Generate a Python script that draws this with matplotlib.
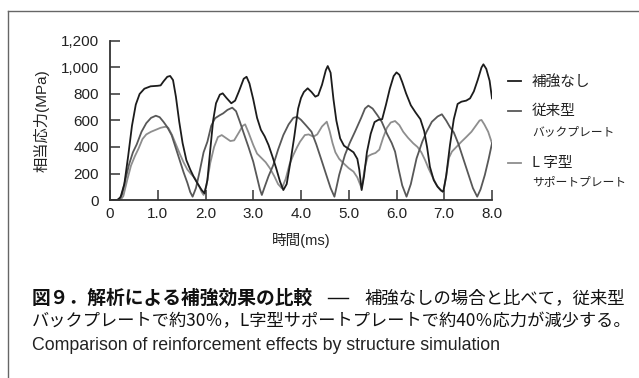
import matplotlib
matplotlib.use("Agg")
import matplotlib.pyplot as plt
from matplotlib.lines import Line2D

plt.rcParams['font.family'] = ['Liberation Sans', 'Noto Sans CJK JP']

# 補強なし
t_none = [0.0, 0.15, 0.22, 0.30, 0.38, 0.46, 0.54, 0.62, 0.72, 0.85, 1.0, 1.06, 1.12, 1.20, 1.26,
          1.32, 1.38, 1.45, 1.52, 1.60, 1.68, 1.76, 1.84, 1.92, 1.98, 2.04, 2.10, 2.16, 2.22, 2.30,
          2.36, 2.44, 2.54, 2.62, 2.70, 2.80, 2.86, 2.92, 3.00, 3.08, 3.16, 3.24, 3.32, 3.40, 3.48,
          3.56, 3.63, 3.70, 3.78, 3.86, 3.94, 4.00, 4.06, 4.14, 4.22, 4.30, 4.36, 4.44, 4.52, 4.56,
          4.62, 4.68, 4.74, 4.82, 4.90, 5.00, 5.10, 5.18, 5.22, 5.27, 5.32, 5.38, 5.46, 5.54, 5.62,
          5.70, 5.78, 5.86, 5.94, 6.00, 6.06, 6.12, 6.20, 6.30, 6.40, 6.50, 6.58, 6.64, 6.70, 6.78,
          6.86, 6.94, 6.98, 7.04, 7.12, 7.20, 7.28, 7.36, 7.46, 7.54, 7.62, 7.70, 7.78, 7.82, 7.88,
          7.95, 8.00]
v_none = [0, 0, 20, 120, 330, 560, 720, 800, 840, 858, 862, 865, 895, 930, 936,
          905, 780, 590, 430, 300, 230, 170, 120, 75, 50, 150, 380, 600, 730, 795,
          805, 770, 730, 750, 820, 915, 930, 880, 760, 620, 530, 480, 415, 330, 240,
          140, 75, 120, 290, 480, 690, 770, 815, 843, 815, 780, 790, 870, 980, 1011,
          960, 760, 600, 465, 410, 385, 360, 310, 230, 75, 180, 360, 500, 588, 605,
          610, 720, 840, 935, 963, 945, 890, 805, 715, 660, 610, 520, 400, 250, 150,
          100, 70, 63, 180, 415, 610, 725, 742, 750, 767, 820, 905, 1000, 1024, 990,
          900, 767]

# 従来型バックプレート
t_back = [0.0, 0.18, 0.25, 0.32, 0.40, 0.48, 0.56, 0.66, 0.76, 0.86, 0.96, 1.04, 1.12, 1.20, 1.29,
          1.38, 1.46, 1.54, 1.62, 1.68, 1.73, 1.80, 1.88, 1.96, 2.04, 2.12, 2.20, 2.30, 2.37, 2.46,
          2.56, 2.64, 2.72, 2.80, 2.90, 3.00, 3.08, 3.14, 3.18, 3.24, 3.32, 3.42, 3.52, 3.63, 3.74,
          3.84, 3.92, 4.00, 4.10, 4.22, 4.32, 4.43, 4.52, 4.62, 4.70, 4.80, 4.92, 5.02, 5.13, 5.26,
          5.34, 5.41, 5.50, 5.60, 5.69, 5.80, 5.90, 5.97, 6.04, 6.12, 6.21, 6.30, 6.42, 6.54, 6.63,
          6.74, 6.86, 6.95, 7.04, 7.12, 7.20, 7.30, 7.40, 7.50, 7.60, 7.69, 7.76, 7.85, 7.93, 8.00]
v_back = [0, 0, 40, 150, 270, 360, 420, 515, 580, 620, 636, 625, 590, 550, 490,
          390, 300, 210, 130, 60, 25, 90, 220, 360, 440, 560, 617, 640, 654, 680,
          697, 670, 590, 505, 400, 289, 170, 80, 38, 100, 180, 264, 380, 490, 570,
          620, 628, 605, 565, 515, 420, 300, 200, 90, 25, 190, 340, 430, 515, 620,
          690, 712, 690, 640, 591, 500, 430, 365, 240, 110, 25, 120, 314, 440, 515,
          590, 630, 647, 600, 550, 510, 420, 310, 200, 90, 25, 80, 189, 310, 428]

# L字型サポートプレート
t_l = [0.0, 0.22, 0.28, 0.36, 0.44, 0.52, 0.60, 0.68, 0.76, 0.86, 0.96, 1.06, 1.16, 1.22, 1.30,
       1.38, 1.46, 1.54, 1.62, 1.70, 1.78, 1.86, 1.92, 1.96, 2.02, 2.10, 2.18, 2.26, 2.34, 2.42,
       2.52, 2.60, 2.70, 2.78, 2.83, 2.90, 3.00, 3.08, 3.18, 3.26, 3.35, 3.44, 3.52, 3.60, 3.68,
       3.76, 3.84, 3.92, 3.98, 4.08, 4.16, 4.26, 4.34, 4.44, 4.54, 4.60, 4.66, 4.72, 4.80, 4.89,
       5.00, 5.10, 5.18, 5.27, 5.34, 5.40, 5.48, 5.56, 5.64, 5.72, 5.80, 5.88, 5.97, 6.06, 6.14,
       6.24, 6.35, 6.44, 6.52, 6.60, 6.67, 6.76, 6.84, 6.92, 6.98, 7.04, 7.10, 7.16, 7.24, 7.36,
       7.46, 7.57, 7.66, 7.74, 7.78, 7.84, 7.92, 8.00]
v_l = [0, 0, 30, 150, 260, 330, 390, 460, 495, 515, 530, 545, 553, 545, 490,
       420, 350, 285, 230, 195, 164, 110, 60, 38, 110, 280, 400, 475, 490, 470,
       445, 450, 510, 560, 571, 510, 415, 350, 314, 285, 239, 180, 120, 88, 160,
       270, 340, 400, 440, 490, 495, 478, 495, 555, 591, 520, 430, 360, 310, 277,
       240, 214, 170, 88, 250, 330, 345, 355, 380, 470, 545, 585, 596, 565, 515,
       470, 428, 400, 360, 300, 239, 170, 113, 75, 58, 180, 320, 365, 395, 440,
       475, 515, 560, 600, 604, 570, 515, 428]

x_ticks = [0, 1, 2, 3, 4, 5, 6, 7, 8]
x_labels = ['0', '1.0', '2.0', '3.0', '4.0', '5.0', '6.0', '7.0', '8.0']
y_ticks = [0, 200, 400, 600, 800, 1000, 1200]
y_labels = ['0', '200', '400', '600', '800', '1,000', '1,200']

c_none = '#1c1c1c'
c_back = '#585858'
c_l = '#8e8e8e'
cjk = 'Noto Sans CJK JP'

fig = plt.figure(figsize=(6.39, 3.78), dpi=100)
ax = fig.add_axes([110 / 639, 1 - 200 / 378, 382 / 639, 159 / 378])

ax.plot(t_l, v_l, color=c_l, lw=1.3)
ax.plot(t_back, v_back, color=c_back, lw=1.3)
ax.plot(t_none, v_none, color=c_none, lw=1.3)

ax.set_xlim(0, 8)
ax.set_ylim(0, 1200)
ax.set_xticks(x_ticks)
ax.set_xticklabels(x_labels)
ax.set_yticks(y_ticks)
ax.set_yticklabels(y_labels)
for s in ['top', 'right']:
    ax.spines[s].set_visible(False)
for s in ['left', 'bottom']:
    ax.spines[s].set_linewidth(1.3)
    ax.spines[s].set_color('#333333')
ax.tick_params(direction='in', length=7, width=1.1, color='#333333',
               labelsize=11, labelcolor='#222222')
ax.tick_params(axis='y', pad=8)
ax.tick_params(axis='x', pad=5)

ax.set_ylabel('相当応力(MPa)', fontsize=11, color='#222222', labelpad=8)
ax.set_xlabel('時間(ms)', fontsize=10.5, color='#222222', labelpad=9)

# legend drawn by hand
def fx(px):
    return px / 639

def fy(py):
    return 1 - py / 378

for py, col in [(81, c_none), (110.5, c_back), (162.5, c_l)]:
    fig.add_artist(Line2D([fx(508), fx(521)], [fy(py), fy(py)], color=col, lw=1.3))
fig.text(fx(532), fy(82), '補強なし', fontsize=10.5, family=cjk, va='center', color='#222222')
fig.text(fx(532), fy(111), '従来型', fontsize=10.5, family=cjk, va='center', color='#222222')
fig.text(fx(532), fy(132), 'バックプレート', fontsize=8.5, family=cjk, va='center', color='#222222')
fig.text(fx(532), fy(163), 'L 字型', fontsize=10.5, family=cjk, va='center', color='#222222')
fig.text(fx(532), fy(182), 'サポートプレート', fontsize=8.5, family=cjk, va='center', color='#222222')

# frame lines
fig.add_artist(Line2D([fx(8), 1], [fy(11), fy(11)], color='#666666', lw=1.0))
fig.add_artist(Line2D([fx(8), fx(8)], [fy(11), 0], color='#666666', lw=1.0))

# caption
fig.text(fx(32), fy(298), '図９．解析による補強効果の比較', fontsize=13.5, family=cjk,
         fontweight='bold', va='center', color='#111111')
fig.add_artist(Line2D([fx(328), fx(348)], [fy(298), fy(298)], color='#111111', lw=1.0))
fig.text(fx(625), fy(298), '補強なしの場合と比べて，従来型', fontsize=12.5, family=cjk,
         ha='right', va='center', color='#111111')
fig.text(fx(32), fy(321), 'バックプレートで約30％，L字型サポートプレートで約40％応力が減少する。',
         fontsize=12.4, family=[cjk, 'DejaVu Sans'], va='center', color='#111111')
fig.text(fx(32), fy(346), 'Comparison of reinforcement effects by structure simulation',
         fontsize=12.8, family='Liberation Sans', va='center', color='#222222')

fig.savefig('out.png', dpi=100)
